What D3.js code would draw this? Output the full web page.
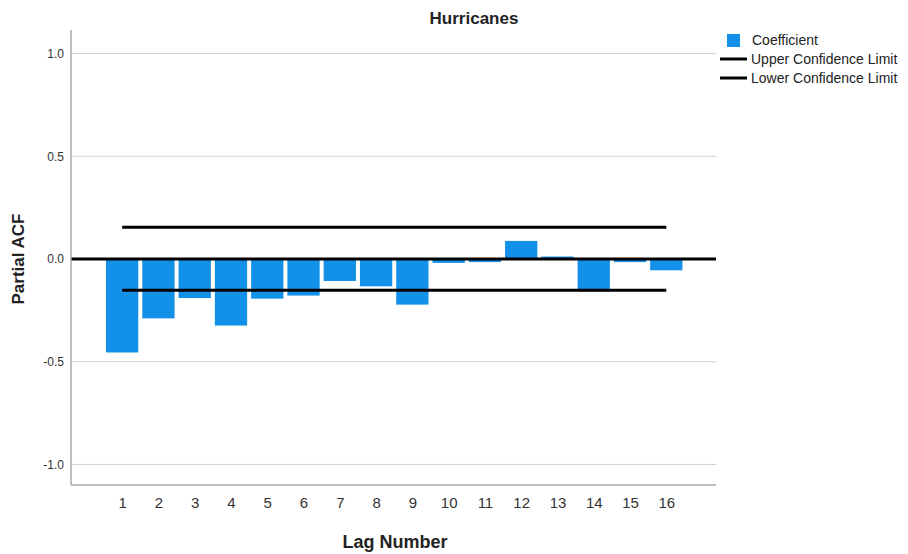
<!DOCTYPE html>
<html>
<head>
<meta charset="utf-8">
<script src="https://cdn.jsdelivr.net/npm/d3@7"></script>
<style>
  body { margin: 0; background: #fff; }
  text { font-family: "Liberation Sans", Arial, sans-serif; }
</style>
</head>
<body>
<div id="chart"></div>
<script>
// lags and partial autocorrelation coefficients
const lags = [1, 2, 3, 4, 5, 6, 7, 8, 9, 10, 11, 12, 13, 14, 15, 16];
const coefficients = [-0.455, -0.289, -0.190, -0.324, -0.193, -0.178, -0.107, -0.133,
                      -0.222, -0.019, -0.015, 0.088, 0.012, -0.157, -0.015, -0.055];
const upperLimit = [0.155];
const lowerLimit = [-0.152];
const yTicks = [-1.0, -0.5, 0.0, 0.5, 1.0];
const legendItems = ["Coefficient", "Upper Confidence Limit", "Lower Confidence Limit"];

const width = 908, height = 554;
const margin = {top: 33, left: 71, right: 192, bottom: 69};
const chartWidth = width - margin.left - margin.right;
const chartHeight = height - margin.top - margin.bottom;

const svg = d3.select("#chart").append("svg")
  .attr("width", width)
  .attr("height", height);

const chartGroup = svg.append("g")
  .attr("transform", `translate(${margin.left}, ${margin.top})`);

// x positions of lags
let xScale = d3.scaleLinear()
  .domain([-0.41, 17.37])
  .range([0, chartWidth]);
let step = xScale(2) - xScale(1);
let barWidth = step * 0.89;

let yScale = d3.scaleLinear()
  .domain([-1.1, 1.1])
  .range([chartHeight, 0]);

// gridlines
chartGroup.append("g")
  .selectAll("line")
  .data(yTicks)
  .join("line")
  .attr("x1", 0)
  .attr("x2", chartWidth)
  .attr("y1", d => yScale(d))
  .attr("y2", d => yScale(d))
  .attr("stroke", "#d2d2d2")
  .attr("stroke-width", 1);

// bars
chartGroup.append("g")
  .selectAll("rect")
  .data(lags)
  .join("rect")
  .attr("x", (d, i) => xScale(d) - barWidth / 2)
  .attr("width", barWidth)
  .attr("y", (d, i) => yScale(Math.max(0, coefficients[i])))
  .attr("height", (d, i) => Math.abs(yScale(coefficients[i]) - yScale(0)))
  .attr("fill", "#1391e8");

// zero reference line
chartGroup.append("line")
  .attr("x1", 0)
  .attr("x2", chartWidth)
  .attr("y1", yScale(0))
  .attr("y2", yScale(0))
  .attr("stroke", "#000")
  .attr("stroke-width", 3);

// confidence limits
let limitLine = d3.line()
  .x(d => xScale(d[0]))
  .y(d => yScale(d[1]));

[upperLimit[0], lowerLimit[0]].forEach(v => {
  chartGroup.append("path")
    .attr("d", limitLine(lags.map(l => [l, v])))
    .attr("fill", "none")
    .attr("stroke", "#000")
    .attr("stroke-width", 3);
});

// axes
let leftAxis = d3.axisLeft(yScale)
  .tickValues(yTicks)
  .tickFormat(d => d.toFixed(1))
  .tickSize(0)
  .tickPadding(7);

let bottomAxis = d3.axisBottom(xScale)
  .tickValues(lags)
  .tickFormat(d3.format("d"))
  .tickSize(0)
  .tickPadding(12);

let yAxisG = chartGroup.append("g").call(leftAxis);
yAxisG.select(".domain").remove();
yAxisG.selectAll("text")
  .attr("font-size", 12)
  .attr("fill", "#333")
  .style("font-family", "'Liberation Sans', Arial, sans-serif");

let xAxisG = chartGroup.append("g")
  .attr("transform", `translate(0, ${chartHeight})`)
  .call(bottomAxis);
xAxisG.select(".domain").remove();
xAxisG.selectAll("text")
  .attr("font-size", 15)
  .attr("fill", "#333")
  .style("font-family", "'Liberation Sans', Arial, sans-serif");

// axis lines
chartGroup.append("line")
  .attr("x1", 0).attr("x2", 0)
  .attr("y1", -3).attr("y2", chartHeight)
  .attr("stroke", "#a8a8a8")
  .attr("stroke-width", 1.5);
chartGroup.append("line")
  .attr("x1", 0).attr("x2", chartWidth)
  .attr("y1", chartHeight).attr("y2", chartHeight)
  .attr("stroke", "#a8a8a8")
  .attr("stroke-width", 1.5);

// titles
svg.append("text")
  .attr("x", 474)
  .attr("y", 24)
  .attr("text-anchor", "middle")
  .attr("font-size", 17)
  .attr("font-weight", "bold")
  .attr("fill", "#222")
  .text("Hurricanes");

svg.append("text")
  .attr("x", 395)
  .attr("y", 548)
  .attr("text-anchor", "middle")
  .attr("font-size", 18)
  .attr("font-weight", "bold")
  .attr("fill", "#222")
  .text("Lag Number");

svg.append("text")
  .attr("transform", `translate(24, ${margin.top + yScale(0)}) rotate(-90)`)
  .attr("text-anchor", "middle")
  .attr("font-size", 17)
  .attr("font-weight", "bold")
  .attr("fill", "#222")
  .text("Partial ACF");

// legend
let legend = svg.append("g").attr("transform", "translate(720, 40)");
legendItems.forEach((name, i) => {
  let yPos = i * 19;
  if (i == 0) {
    legend.append("rect")
      .attr("x", 7).attr("y", yPos - 6)
      .attr("width", 13).attr("height", 13)
      .attr("fill", "#1391e8");
  } else {
    legend.append("line")
      .attr("x1", 0).attr("x2", 27)
      .attr("y1", yPos).attr("y2", yPos)
      .attr("stroke", "#000")
      .attr("stroke-width", 3);
  }
  legend.append("text")
    .attr("x", i == 0 ? 32 : 31)
    .attr("y", yPos + 5)
    .attr("font-size", 14)
    .attr("fill", "#222")
    .text(name);
});
</script>
</body>
</html>
